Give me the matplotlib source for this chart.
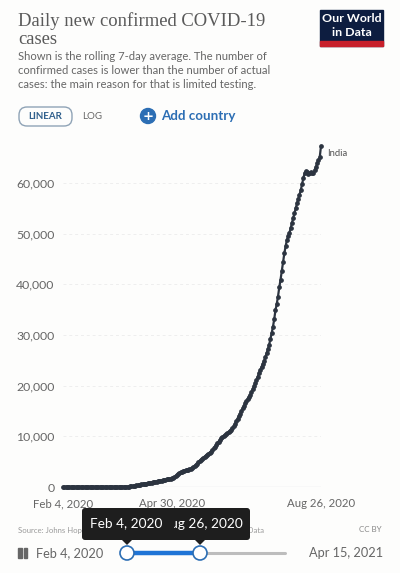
import numpy as np
import pandas as pd
import matplotlib
matplotlib.use("Agg")
import matplotlib.pyplot as plt
import matplotlib.patches as mpatches
from matplotlib.transforms import Affine2D

# --- data: India, daily new confirmed cases (7-day rolling average) ---
dates = pd.date_range("2020-02-04", "2020-08-26", freq="D")

feb = [0, 0, 0, 0, 0, 0, 0, 0, 0, 0, 0, 0, 0, 0, 0, 0, 0, 0, 0, 0, 0, 0, 0, 0, 0, 0]
mar = [0, 0, 1, 3, 4, 4, 4, 5, 6, 6, 7, 8, 9, 10, 12, 14, 18, 22, 25, 32,
       40, 50, 62, 70, 75, 80, 95, 115, 135, 160, 185]
apr = [260, 320, 380, 430, 480, 520, 560, 600, 640, 690, 740, 790, 830, 880, 930,
       980, 1010, 1060, 1120, 1180, 1230, 1270, 1310, 1380, 1430, 1500, 1560, 1600, 1650, 1750]
may = [1850, 1950, 2100, 2400, 2650, 2800, 2950, 3050, 3150, 3250, 3300, 3350, 3400, 3500,
       3600, 3700, 3850, 4100, 4350, 4600, 4850, 5100, 5350, 5600, 5800, 6000, 6200, 6400,
       6600, 6800, 7000]
jun = [7300, 7600, 7900, 8250, 8600, 8950, 9300, 9600, 9850, 10050, 10250, 10450, 10650,
       10850, 11050, 11300, 11600, 12000, 12500, 13000, 13500, 14000, 14500, 15000, 15500,
       16000, 16500, 17000, 17400, 17800]
jul = [18200, 18700, 19300, 19900, 20500, 21100, 21800, 22500, 23100, 23700, 24300, 24900,
       25600, 26400, 27200, 28100, 29200, 30400, 31600, 33100, 34900, 36100, 37600, 39400,
       40900, 42600, 44400, 46100, 47500, 48700, 49500]
aug = [50100, 51100, 52100, 53100, 54000, 55000, 56000, 56800, 57700, 58600, 59800, 60900,
       61900, 62300, 62100, 61800, 62000, 62100, 62000, 61900, 62500, 63200, 63900, 64500,
       65100, 67300]
cases = feb + mar + apr + may + jun + jul + aug

y_ticks = [0, 10000, 20000, 30000, 40000, 50000, 60000]
x_tick_dates = ["2020-02-04", "2020-04-30", "2020-08-26"]
x_tick_labels = ["Feb 4, 2020", "Apr 30, 2020", "Aug 26, 2020"]

W, H = 400, 573
fig = plt.figure(figsize=(W / 100, H / 100), dpi=100)
fig.patch.set_facecolor("#fdfdfc")

# pixel transform: x from left, y from top
PX = Affine2D().scale(1 / 100) + fig.dpi_scale_trans


def Y(y):
    return H - y


SANS = ["Lato", "DejaVu Sans"]

# --- header ---
fig.text(18, Y(21), "Daily new confirmed COVID-19", transform=PX, family="Liberation Serif",
         fontsize=13.4, color="#5a5a5a", va="center")
fig.text(18, Y(40), "cases", transform=PX, family="Liberation Serif",
         fontsize=13.4, color="#5a5a5a", va="center")
subtitle = ["Shown is the rolling 7-day average. The number of",
            "confirmed cases is lower than the number of actual",
            "cases: the main reason for that is limited testing."]
for i, line in enumerate(subtitle):
    fig.text(18, Y(57 + i * 13.5), line, transform=PX, family=SANS, fontsize=8.1,
             color="#666666", va="center")

# logo
fig.add_artist(mpatches.Rectangle((320, Y(46)), 63, 36, transform=PX, color="#0d1d40"))
fig.add_artist(mpatches.Rectangle((320, Y(46)), 63, 5, transform=PX, color="#c8202b"))
fig.text(351.5, Y(18.5), "Our World", transform=PX, family=SANS, fontsize=8.9,
         color="white", ha="center", va="center", weight="bold")
fig.text(351.5, Y(32), "in Data", transform=PX, family=SANS, fontsize=8.9,
         color="white", ha="center", va="center", weight="bold")

# linear / log toggle
fig.add_artist(mpatches.FancyBboxPatch((19, Y(126)), 53, 19, transform=PX,
                                       boxstyle="round,pad=0,rounding_size=8",
                                       fc="none", ec="#8fa3b6", lw=1.0))
fig.text(45.5, Y(116.5), "LINEAR", transform=PX, family=SANS, fontsize=7.0,
         color="#2f5f8c", ha="center", va="center", weight="bold")
fig.text(92, Y(116.5), "LOG", transform=PX, family=SANS, fontsize=7.0,
         color="#666666", ha="center", va="center")

# add country
fig.add_artist(mpatches.Circle((148, Y(116)), 7.5, transform=PX, color="#2c6eb4"))
fig.text(148, Y(116.5), "+", transform=PX, family="DejaVu Sans", fontsize=9.5,
         color="white", ha="center", va="center", weight="bold")
fig.text(161, Y(116), "Add country", transform=PX, family=SANS, fontsize=9.6,
         color="#2c6eb4", va="center", weight="bold")

# --- chart ---
x0, x1 = 63, 321
y_bottom, y_top = 487, 142.5
ax = fig.add_axes([x0 / W, (H - y_bottom) / H, (x1 - x0) / W, (y_bottom - y_top) / H])
ax.set_facecolor("none")
ax.set_xlim(dates[0], dates[-1])
ax.set_ylim(0, 68000)

for v in y_ticks[1:]:
    ax.axhline(v, color="#eeeeee", lw=0.7, ls=(0, (3, 3)), zorder=0)
ax.axhline(0, color="#dddddd", lw=0.9, zorder=0)

ax.plot(dates, cases, color="#2c3440", lw=1.6, marker="o", ms=2.4, clip_on=False, zorder=3)
ax.text(dates[-1] + pd.Timedelta(days=5), cases[-1] - 1400, "India", family=SANS,
        fontsize=6.8, color="#555555", va="center")

ax.set_yticks(y_ticks)
ax.set_yticklabels([f"{v:,}" for v in y_ticks], family=SANS, fontsize=8.8, color="#666666")
ax.set_xticks(pd.to_datetime(x_tick_dates))
ax.set_xticklabels(x_tick_labels, family=SANS, fontsize=8.2, color="#666666")
ax.tick_params(axis="y", length=0, pad=6)
ax.tick_params(axis="x", length=0, pad=8)
for s in ax.spines.values():
    s.set_visible(False)

# --- footer ---
fig.text(18, Y(530), "Source: Johns Hopkins University CSSE – Last updated OurWorldInData",
         transform=PX, family=SANS, fontsize=5.6, color="#999999", va="center", zorder=0.5)
fig.text(382, Y(530), "CC BY", transform=PX, family=SANS, fontsize=5.8,
         color="#888888", va="center", ha="right")

# tooltips (the second one sits under the first, hiding "Au")
tip = "#1e1e1e"
fig.add_artist(mpatches.FancyBboxPatch((160, Y(540)), 90, 32, transform=PX, zorder=5,
                                       boxstyle="round,pad=0,rounding_size=3", fc=tip, ec="none"))
fig.add_artist(mpatches.Polygon([[194, Y(539)], [206, Y(539)], [200, Y(545)]],
                                transform=PX, fc=tip, ec="none", zorder=5))
fig.text(243, Y(523.5), "Aug 26, 2020", transform=PX, family=SANS, fontsize=9.8,
         color="white", ha="right", va="center", zorder=6)
fig.add_artist(mpatches.FancyBboxPatch((82, Y(540)), 92, 32, transform=PX, zorder=7,
                                       boxstyle="round,pad=0,rounding_size=3", fc=tip, ec="none"))
fig.add_artist(mpatches.Polygon([[121, Y(539)], [133, Y(539)], [127, Y(545)]],
                                transform=PX, fc=tip, ec="none", zorder=7))
fig.text(90, Y(523.5), "Feb 4, 2020", transform=PX, family=SANS, fontsize=9.8,
         color="white", va="center", zorder=8)

# timeline slider
fig.add_artist(mpatches.Rectangle((18, Y(558)), 3.5, 10, transform=PX, color="#666666"))
fig.add_artist(mpatches.Rectangle((23.5, Y(558)), 3.5, 10, transform=PX, color="#666666"))
fig.text(36, Y(553), "Feb 4, 2020", transform=PX, family=SANS, fontsize=9.2,
         color="#666666", va="center")
fig.text(383, Y(553), "Apr 15, 2021", transform=PX, family=SANS, fontsize=9.2,
         color="#666666", va="center", ha="right")
fig.add_artist(plt.Line2D([127, 285], [Y(553), Y(553)], transform=PX, color="#bdbdbd",
                          lw=2.2, solid_capstyle="round"))
fig.add_artist(plt.Line2D([127, 200], [Y(553), Y(553)], transform=PX, color="#1f74d6",
                          lw=3.2))
for cx in (127, 200):
    fig.add_artist(mpatches.Circle((cx, Y(553)), 7, transform=PX, fc="white",
                                   ec="#2c6eb4", lw=1.2, zorder=9))

fig.savefig("out.png", dpi=100, facecolor=fig.get_facecolor())
